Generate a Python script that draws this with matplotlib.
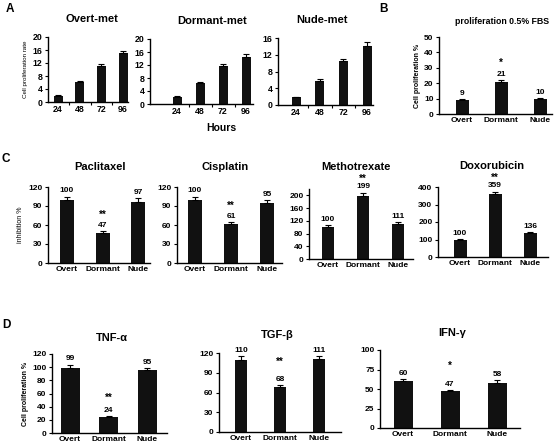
"""Multi-panel bar figure: proliferation / drug inhibition / cytokine response."""
import numpy as np
import matplotlib
matplotlib.use("Agg")
import matplotlib.pyplot as plt

plt.rcParams['font.family'] = ['Liberation Sans', 'DejaVu Sans']
plt.rcParams['font.weight'] = 'bold'

W, H = 560, 447

# ---- data ----
hours = ['24', '48', '72', '96']
overt_met = [2.0, 6.2, 11.0, 15.0]
overt_met_err = [0.2, 0.3, 0.6, 0.8]
dormant_met = [2.2, 6.5, 11.8, 14.5]
dormant_met_err = [0.2, 0.4, 0.6, 0.8]
nude_met = [1.8, 5.7, 10.4, 14.2]
nude_met_err = [0.2, 0.4, 0.6, 0.8]

groups = ['Overt', 'Dormant', 'Nude']
fbs = [9, 21, 10]
fbs_err = [0.6, 1.2, 0.6]
fbs_stars = ['', '*', '']

paclitaxel = [100, 47, 97]
paclitaxel_err = [5, 3, 5]
cisplatin = [100, 61, 95]
cisplatin_err = [5, 3, 5]
methotrexate = [100, 199, 111]
methotrexate_err = [6, 10, 6]
doxorubicin = [100, 359, 136]
doxorubicin_err = [5, 15, 8]
drug_stars = ['', '**', '']

tnf = [99, 24, 95]
tnf_err = [5, 2, 4]
tgf = [110, 68, 111]
tgf_err = [5, 4, 5]
ifn = [60, 47, 58]
ifn_err = [3, 2, 3]
tnf_stars = ['', '**', '']
ifn_stars = ['', '*', '']

fig = plt.figure(figsize=(W / 100, H / 100), dpi=100)


def ftext(x, y, s, **kw):
    fig.text(x / W, 1 - y / H, s, ha='center', va='center', **kw)


def bar_panel(box, bars, vals, errs, ylim, yticks, width_px, labels,
              show_vals=False, stars=None, star_gap=7, fs=6, hours_ticks=False):
    left, right, top, bottom = box
    b0, bn = bars
    n = len(vals)
    unit = (bn - b0) / (n - 1)
    ax = fig.add_axes([left / W, 1 - bottom / H, (right - left) / W, (bottom - top) / H])
    x = np.arange(n)
    ax.bar(x, vals, width=width_px / unit, color='#111111', zorder=2)
    ax.errorbar(x, vals, yerr=[np.zeros(n), errs], fmt='none', ecolor='black',
                elinewidth=0.8, capsize=2.5, capthick=0.8, zorder=3)
    ax.set_xlim((left - b0) / unit, (right - b0) / unit)
    ax.set_ylim(*ylim)
    ax.set_yticks(yticks)
    ax.set_xticks(x)
    ax.set_xticklabels(labels)
    for s in ('top', 'right'):
        ax.spines[s].set_visible(False)
    for s in ('left', 'bottom'):
        ax.spines[s].set_linewidth(1.0)
    ax.tick_params(axis='y', direction='out', length=2.5, width=0.8, labelsize=fs, pad=1.5)
    ax.tick_params(axis='x', length=0, labelsize=fs, pad=2.5)
    if hours_ticks:
        ax.set_xticks([0.5, 1.5, 2.5], minor=True)
        ax.tick_params(axis='x', which='minor', direction='out', length=2.5, width=0.8)
    if show_vals:
        for xi, v, e in zip(x, vals, errs):
            ax.annotate(f'{v}', (xi, v + e), textcoords='offset points', xytext=(0, 1.5),
                        ha='center', va='bottom', fontsize=6, fontweight='bold',
                        annotation_clip=False)
    if stars:
        for xi, v, e, st in zip(x, vals, errs, stars):
            if st:
                ax.annotate(st, (xi, v + e), textcoords='offset points',
                            xytext=(0, 1.5 + star_gap), ha='center', va='bottom',
                            fontsize=7, fontweight='bold', annotation_clip=False)
    return ax


# ---- A ----
ax = bar_panel((48, 128, 37, 102), (58, 123), overt_met, overt_met_err, (0, 20),
               [0, 4, 8, 12, 16, 20], 9, hours, hours_ticks=True, fs=6.3)
ax.set_ylabel('Cell proliferation rate', fontsize=4.5, fontweight='normal', labelpad=3)
bar_panel((150, 253, 39, 104), (177, 246), dormant_met, dormant_met_err, (0, 20),
          [0, 4, 8, 12, 16, 20], 9, hours, hours_ticks=True, fs=6.3)
bar_panel((278, 373, 38, 105), (296, 367), nude_met, nude_met_err, (0, 16),
          [0, 4, 8, 12, 16], 9, hours, hours_ticks=True, fs=6.3)
ftext(92, 19, 'Overt-met', fontsize=8, fontweight='bold')
ftext(212, 21, 'Dormant-met', fontsize=8, fontweight='bold')
ftext(322, 20, 'Nude-met', fontsize=8, fontweight='bold')
ftext(221, 128, 'Hours', fontsize=7.5, fontweight='bold')
ftext(10, 9, 'A', fontsize=8.5, fontweight='bold')

# ---- B ----
ax = bar_panel((439, 552, 37, 114), (462, 540), fbs, fbs_err, (0, 50),
               [0, 10, 20, 30, 40, 50], 13, groups, show_vals=True, stars=fbs_stars,
               star_gap=7)
ax.set_ylabel('Cell proliferation %', fontsize=5, fontweight='bold', labelpad=2)
ftext(502, 22, 'proliferation 0.5% FBS', fontsize=6.3, fontweight='bold')
ftext(383, 9, 'B', fontsize=8.5, fontweight='bold')

# ---- C ----
ax = bar_panel((48, 150, 187, 263), (67, 138), paclitaxel, paclitaxel_err, (0, 120),
               [0, 30, 60, 90, 120], 14, groups, show_vals=True, stars=drug_stars, star_gap=7)
ax.set_ylabel('inhibition %', fontsize=5, fontweight='normal', labelpad=3)
bar_panel((177, 282, 187, 263), (195, 267), cisplatin, cisplatin_err, (0, 120),
          [0, 30, 60, 90, 120], 14, groups, show_vals=True, stars=drug_stars, star_gap=7)
bar_panel((309, 413, 189, 259), (328, 398), methotrexate, methotrexate_err, (0, 220),
          [0, 40, 80, 120, 160, 200], 12, groups, show_vals=True, stars=drug_stars, star_gap=5)
bar_panel((438, 548, 187, 257), (460, 530), doxorubicin, doxorubicin_err, (0, 400),
          [0, 100, 200, 300, 400], 13, groups, show_vals=True, stars=drug_stars, star_gap=5)
ftext(100, 167, 'Paclitaxel', fontsize=8, fontweight='bold')
ftext(225, 167, 'Cisplatin', fontsize=8, fontweight='bold')
ftext(356, 167, 'Methotrexate', fontsize=8, fontweight='bold')
ftext(492, 166, 'Doxorubicin', fontsize=8, fontweight='bold')
ftext(6, 159, 'C', fontsize=8.5, fontweight='bold')

# ---- D ----
ax = bar_panel((52, 167, 354, 433), (70, 147), tnf, tnf_err, (0, 120),
               [0, 20, 40, 60, 80, 100, 120], 19, groups, show_vals=True,
               stars=tnf_stars, star_gap=8)
ax.set_ylabel('Cell proliferation %', fontsize=5, fontweight='bold', labelpad=2)
bar_panel((219, 341, 353, 432), (241, 319), tgf, tgf_err, (0, 120),
          [0, 30, 60, 90, 120], 12, groups, show_vals=True, stars=tnf_stars, star_gap=11)
bar_panel((380, 520, 350, 428), (403, 497), ifn, ifn_err, (0, 100),
          [0, 25, 50, 75, 100], 19, groups, show_vals=True, stars=ifn_stars, star_gap=12)
ftext(112, 338, 'TNF-α', fontsize=8, fontweight='bold')
ftext(277, 335, 'TGF-β', fontsize=8, fontweight='bold')
ftext(452, 333, 'IFN-γ', fontsize=8, fontweight='bold')
ftext(6, 325, 'D', fontsize=8.5, fontweight='bold')

fig.savefig('out.png', dpi=100)
